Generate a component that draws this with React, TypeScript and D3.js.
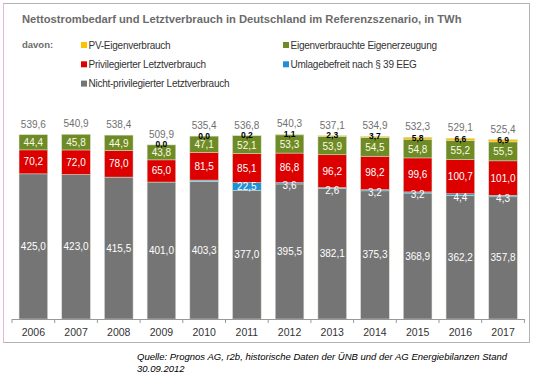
import React from "react";
import * as d3 from "d3";

const years = ["2006","2007","2008","2009","2010","2011","2012","2013","2014","2015","2016","2017"];
const nichtPriv = [425.0,423.0,415.5,401.0,403.3,377.0,395.5,382.1,375.3,368.9,362.2,357.8];
const umlagebefreit = [0,0,0,0,3.5,22.5,3.6,2.6,3.2,3.2,4.4,4.3];
const privileg = [70.2,72.0,78.0,65.0,81.5,85.1,86.8,96.2,98.2,99.6,100.7,101.0];
const eigenErz = [44.4,45.8,44.9,43.8,47.1,52.1,53.3,53.9,54.5,54.8,55.2,55.5];
const pvEigen = [0,0,0,0.0,0.0,0.2,1.1,2.3,3.7,5.8,6.6,6.9];
const totals = [539.6,540.9,538.4,509.9,535.4,536.8,540.3,537.1,534.9,532.3,529.1,525.4];
const showBlueLabel = [false,false,false,false,false,true,true,true,true,true,true,true];
const showPvLabel = [false,false,false,true,true,true,true,true,true,true,true,true];

const seriesKeys = ["np","ub","pr","ee","pv"];
const seriesColors: Record<string,string> = { np: "#757575", ub: "#1f8fd6", pr: "#dc0000", ee: "#6e8b25", pv: "#ffc000" };
const legendItems = [
  { label: "PV-Eigenverbrauch", color: "#ffc000", col: 0, row: 0 },
  { label: "Eigenverbrauchte Eigenerzeugung", color: "#6e8b25", col: 1, row: 0 },
  { label: "Privilegierter Letztverbrauch", color: "#dc0000", col: 0, row: 1 },
  { label: "Umlagebefreit nach § 39 EEG", color: "#1f8fd6", col: 1, row: 1 },
  { label: "Nicht-privilegierter Letztverbrauch", color: "#757575", col: 0, row: 2 },
];

const fmt = (v: number) => v.toFixed(1).replace(".", ",");

export default function App() {
  const W = 533, H = 381;
  const baseY = 319;
  const x = d3.scaleBand<string>().domain(years).range([12, 524.4]).paddingInner(0.33).paddingOuter(0.165);
  const y = d3.scaleLinear().domain([0, 600]).range([baseY, baseY - 600 * 0.3415]);
  const rows = years.map((yr, i) => ({ yr, np: nichtPriv[i], ub: umlagebefreit[i], pr: privileg[i], ee: eigenErz[i], pv: pvEigen[i] }));
  const stacked = d3.stack<any>().keys(seriesKeys)(rows);
  const font = "'Liberation Sans', Arial, sans-serif";
  const step = x.step();
  const x0 = 12;

  return (
    <svg width={W} height={H} style={{ position: "absolute", left: 0, top: 0, fontFamily: font }}>
      <rect x={0} y={0} width={W} height={H} fill="#fff" />
      <rect x={3.5} y={3.5} width={526} height={339} fill="none" stroke="#b3b3b3" strokeWidth={1} />
      <line x1={3.5} x2={3.5} y1={3.5} y2={342.5} stroke="#e3b8dc" strokeWidth={1} />
      <text x={22} y={23} fontSize={11.2} fontWeight="bold" fill="#6b6b6b">Nettostrombedarf und Letztverbrauch in Deutschland im Referenzszenario, in TWh</text>
      <text x={22} y={48} fontSize={9.5} fontWeight="bold" fill="#6b6b6b">davon:</text>
      {legendItems.map((it, i) => {
        const lx = it.col === 0 ? 81 : 283;
        const ly = 45 + it.row * 19.3;
        return (
          <g key={i}>
            <rect x={lx} y={ly - 3} width={6} height={6} fill={it.color} />
            <text x={lx + 7.5} y={ly + 3.5} fontSize={10} fill="#333" letterSpacing={-0.25}>{it.label}</text>
          </g>
        );
      })}
      {stacked.map((s) => (
        <g key={s.key}>
          {s.map((d, i) => {
            const h = y(d[0]) - y(d[1]);
            if (h <= 0) return null;
            return (
              <rect key={i} x={x(years[i])} y={y(d[1])} width={x.bandwidth()} height={h}
                fill={seriesColors[s.key]} stroke="#d8e0cc" strokeWidth={0.5} />
            );
          })}
        </g>
      ))}
      {years.map((yr, i) => {
        const cx = (x(yr) as number) + x.bandwidth() / 2;
        const np = stacked[0][i], ub = stacked[1][i], pr = stacked[2][i], ee = stacked[3][i], pv = stacked[4][i];
        const mid = (d: any) => (y(d[0]) + y(d[1])) / 2;
        return (
          <g key={yr} fontSize={10} textAnchor="middle">
            <text x={cx} y={mid(np) + 3.5} fill="#fff">{fmt(nichtPriv[i])}</text>
            {showBlueLabel[i] && <text x={cx} y={mid(ub) + (umlagebefreit[i] > 10 ? 3.5 : 6)} fill="#fff">{fmt(umlagebefreit[i])}</text>}
            <text x={cx} y={mid(pr) + 3.5} fill="#fff">{fmt(privileg[i])}</text>
            <text x={cx} y={mid(ee) + 4} fill="#fbfbe8">{fmt(eigenErz[i])}</text>
            {showPvLabel[i] && <text x={cx} y={mid(pv) + 2.5} fill="#000" fontSize={8.5} fontWeight="bold">{fmt(pvEigen[i])}</text>}
            <text x={cx} y={y(totals[i]) - 7} fill="#707070">{fmt(totals[i])}</text>
            <text x={cx} y={335.5} fill="#333" fontSize={10.5}>{yr}</text>
          </g>
        );
      })}
      <line x1={x0} x2={524.4} y1={baseY + 0.5} y2={baseY + 0.5} stroke="#999" />
      {d3.range(13).map((k) => (
        <line key={k} x1={x0 + k * step} x2={x0 + k * step} y1={baseY} y2={baseY + 4} stroke="#999" />
      ))}
      <text x={137} y={360} fontSize={9.5} fontStyle="italic" fill="#000">Quelle: Prognos AG, r2b, historische Daten der ÜNB und der AG Energiebilanzen Stand</text>
      <text x={137} y={372} fontSize={9.5} fontStyle="italic" fill="#000">30.09.2012</text>
    </svg>
  );
}
